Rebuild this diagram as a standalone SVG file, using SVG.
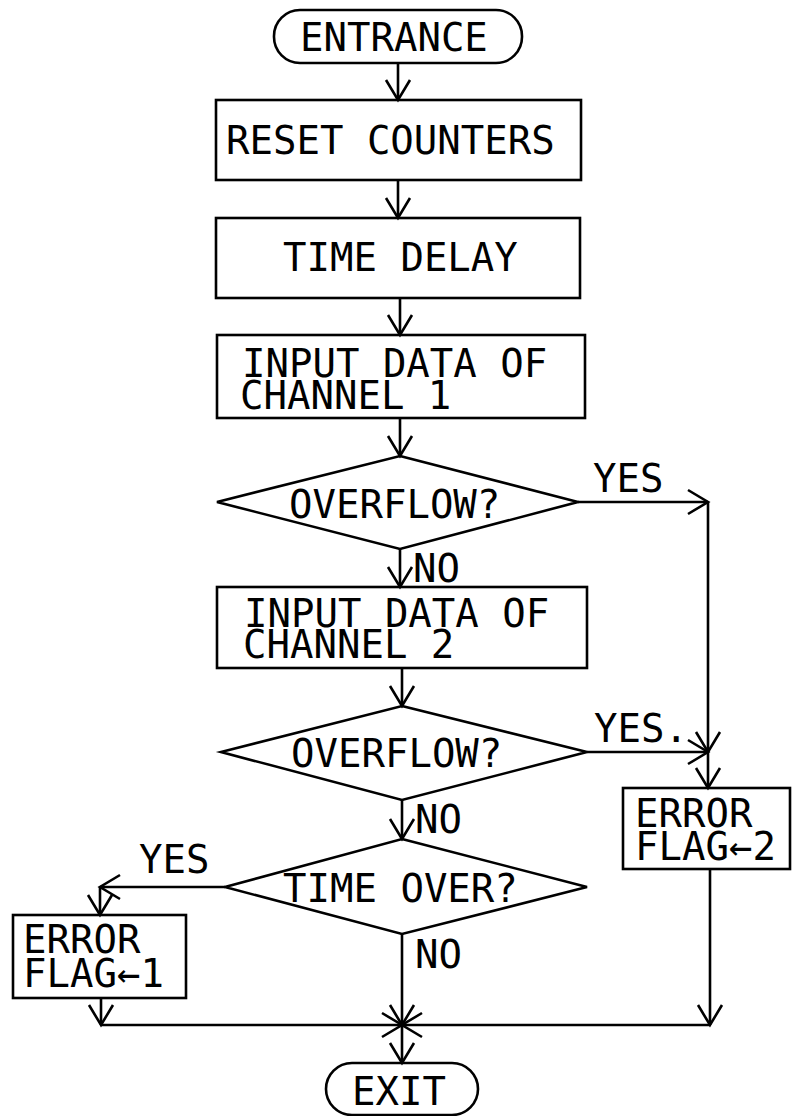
<svg xmlns="http://www.w3.org/2000/svg" width="793" height="1116" viewBox="0 0 793 1116">
<style>
.s{fill:none;stroke:#000;stroke-width:2.6;stroke-linejoin:miter}
.t{font-family:"DejaVu Sans Mono","Liberation Mono",monospace;font-size:39px;fill:#000}
.c{fill:none;stroke:#000;stroke-width:2.6;marker-end:url(#a)}
</style>
<defs>
<marker id="a" viewBox="-24 -16 28 32" refX="0" refY="0" markerWidth="28" markerHeight="32" orient="auto" markerUnits="userSpaceOnUse">
<path d="M-20,-12 L0,0 L-20,12" fill="none" stroke="#000" stroke-width="2.6"/>
</marker>
</defs>
<rect width="793" height="1116" fill="#fff"/>
<g id="entrance"><rect class="s" x="274" y="10" width="248" height="53" rx="26"/><text class="t" x="300" y="51">ENTRANCE</text></g>
<g id="reset"><rect class="s" x="216" y="100" width="365" height="80"/><text class="t" x="226" y="154">RESET COUNTERS</text></g>
<g id="delay"><rect class="s" x="216" y="218" width="364" height="80"/><text class="t" x="283" y="271">TIME DELAY</text></g>
<g id="input1"><rect class="s" x="217" y="335" width="368" height="83"/><text class="t" x="242" y="377">INPUT DATA OF</text><text class="t" x="240" y="409">CHANNEL 1</text></g>
<g id="overflow1"><polygon class="s" points="400,456 578,502 400,549 217,502"/><text class="t" x="289" y="518">OVERFLOW?</text></g>
<g id="input2"><rect class="s" x="217" y="587" width="370" height="81"/><text class="t" x="244" y="627">INPUT DATA OF</text><text class="t" x="243" y="658">CHANNEL 2</text></g>
<g id="overflow2"><polygon class="s" points="402,706 587,752 402,800 221,752"/><text class="t" x="291" y="767">OVERFLOW?</text></g>
<g id="timeover"><polygon class="s" points="402,839 587,887 402,934 225,887"/><text class="t" x="283" y="902">TIME OVER?</text></g>
<g id="errflag2"><rect class="s" x="623" y="788" width="167" height="81"/><text class="t" x="635" y="827">ERROR</text><text class="t" x="635" y="860">FLAG←2</text></g>
<g id="errflag1"><rect class="s" x="13" y="915" width="173" height="83"/><text class="t" x="23" y="953">ERROR</text><text class="t" x="23" y="987">FLAG←1</text></g>
<g id="exit"><rect class="s" x="326" y="1063" width="152" height="52" rx="26"/><text class="t" x="352" y="1105">EXIT</text></g>
<g id="connectors">
<line class="c" x1="398" y1="63" x2="398" y2="100"/>
<line class="c" x1="398" y1="180" x2="398" y2="218"/>
<line class="c" x1="400" y1="298" x2="400" y2="335"/>
<line class="c" x1="400" y1="418" x2="400" y2="456"/>
<line class="c" x1="400" y1="549" x2="400" y2="587"/>
<line class="c" x1="402" y1="668" x2="402" y2="706"/>
<line class="c" x1="402" y1="800" x2="402" y2="839"/>
<line class="c" x1="578" y1="502" x2="708" y2="502"/>
<line class="c" x1="708" y1="502" x2="708" y2="752"/>
<line class="c" x1="587" y1="752" x2="708" y2="752"/>
<line class="c" x1="708" y1="752" x2="708" y2="788"/>
<line class="c" x1="225" y1="887" x2="100" y2="887"/>
<line class="c" x1="100" y1="887" x2="100" y2="915"/>
<line class="c" x1="101" y1="998" x2="101" y2="1025"/>
<line class="c" x1="101" y1="1025" x2="402" y2="1025"/>
<line class="c" x1="710" y1="869" x2="710" y2="1025"/>
<line class="c" x1="710" y1="1025" x2="402" y2="1025"/>
<line class="c" x1="402" y1="934" x2="402" y2="1025"/>
<line class="c" x1="402" y1="1025" x2="402" y2="1063"/>
<text class="t" x="593" y="492">YES</text>
<text class="t" x="413" y="582">NO</text>
<text class="t" x="594" y="742">YES.</text>
<text class="t" x="415" y="833">NO</text>
<text class="t" x="139" y="873">YES</text>
<text class="t" x="415" y="968">NO</text>
</g>
</svg>
